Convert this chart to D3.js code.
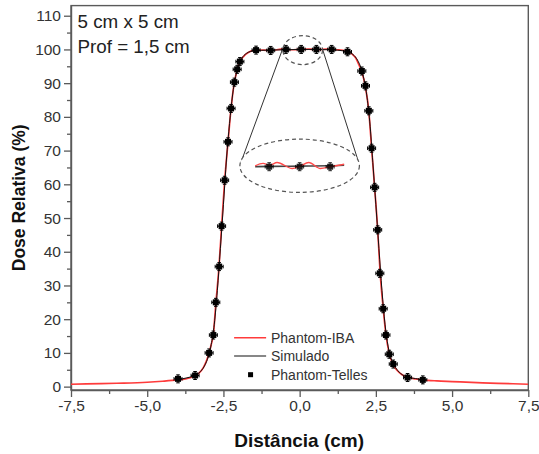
<!DOCTYPE html>
<html><head><meta charset="utf-8">
<script src="https://cdn.jsdelivr.net/npm/d3@7"></script>
<style>
html,body{margin:0;padding:0;background:#fff;}
svg{display:block;font-family:"Liberation Sans",Arial,sans-serif;}
</style></head>
<body>
<svg id="c" width="539" height="454"></svg>
<script>
// ---------- data ----------
const xTicks = [-7.5,-5.0,-2.5,0.0,2.5,5.0,7.5];
const yTicks = [0,10,20,30,40,50,60,70,80,90,100,110];
const seriesNames = ["Phantom-IBA","Simulado","Phantom-Telles"];
const annotLines = ["5 cm x 5 cm","Prof = 1,5 cm"];

const ibaX = [-7.5,-7,-6,-5,-4.5,-4,-3.75,-3.5,-3.3,-3.15,-3.05,-2.97,-2.9,-2.83,-2.75,-2.65,-2.56,-2.46,-2.35,-2.25,-2.15,-2.05,-1.96,-1.85,-1.7,-1.5,-1.2,-0.9,-0.6,-0.3,0,0.3,0.6,0.9,1.2,1.5,1.7,1.85,1.95,2.04,2.16,2.27,2.36,2.46,2.56,2.64,2.74,2.83,2.94,3.07,3.2,3.35,3.55,3.8,4.04,4.5,5,6,7,7.5];
const ibaY = [0.7,0.8,1.0,1.3,1.6,2.0,2.3,2.9,4.0,5.8,7.8,10.0,12.5,15.5,24.5,35,47.5,61,72.5,82.5,89.8,94,96.4,97.8,99.0,99.7,99.8,99.7,100.1,99.9,100,100.1,99.9,100.1,99.9,99.6,98.8,97.3,95.3,93.3,88.8,81.5,70.8,59,46.5,33.8,23.3,15.5,9.8,6.5,4.8,3.6,2.7,2.3,2.0,1.7,1.5,1.1,0.85,0.7];

const simX = [-4,-3.7,-3.45,-3.25,-3.1,-3.0,-2.9,-2.8,-2.7,-2.6,-2.5,-2.4,-2.3,-2.2,-2.1,-2.0,-1.9,-1.75,-1.5,-1,-0.5,0,0.5,1,1.5,1.75,1.9,2.0,2.1,2.2,2.3,2.4,2.5,2.6,2.7,2.8,2.9,3.0,3.15,3.3,3.55,3.8,4.04];
const simY = [2.1,2.6,3.3,4.5,6.5,8.8,12.5,18.5,28.5,41,54,67.5,78,86.5,92,95.3,97.3,98.8,99.6,99.8,99.9,100,100,99.9,99.5,98.5,96.8,94.8,91.5,86.5,78.5,66.5,54,41,28.5,18.5,12,8.3,5.6,4.0,2.8,2.4,2.0];

const tellesX = [-3.99,-3.43,-2.97,-2.83,-2.75,-2.64,-2.56,-2.46,-2.35,-2.25,-2.14,-2.05,-1.96,-1.43,-0.95,-0.45,0.05,0.55,1.05,1.57,2.04,2.16,2.27,2.36,2.46,2.56,2.63,2.74,2.83,2.94,3.07,3.54,4.04];
const tellesY = [2.3,3.3,10.0,15.3,25.0,35.6,47.6,61.2,72.6,82.5,90.3,94.1,96.4,99.8,99.7,100.0,100.0,100.0,100.0,99.3,93.6,89.2,81.8,70.7,59.1,46.5,33.6,23.1,15.3,9.6,6.7,2.7,2.0];

// magnified inset (plateau region)
const insetIbaX = [-0.73,-0.6,-0.49,-0.37,-0.12,0.0,0.15,0.34,0.51,0.73];
const insetIbaY = [100.01,100.09,100.03,100.12,99.92,99.99,100.12,99.92,99.98,100.06];
const insetSimX = [-0.73,-0.45,0.0,0.45,0.73];
const insetSimY = [99.98,99.99,100.0,100.01,100.03];
const insetTellesX = [-0.5,0.0,0.5];
const insetTellesY = [99.98,99.98,99.98];

// ---------- layout ----------
const svg = d3.select("#c");
const L = 71, R = 528.3, T = 5.6, B = 390;
const x = d3.scaleLinear().domain([-7.5,7.5]).range([L,R]);
const y = d3.scaleLinear().domain([-1,113]).range([B,T]);
const axisCol = "#5a5a5a", txtCol = "#333";

svg.append("defs").append("clipPath").attr("id","clip")
  .append("rect").attr("x",L).attr("y",T).attr("width",R-L).attr("height",B-T);

// frame
svg.append("rect").attr("x",L).attr("y",T).attr("width",R-L).attr("height",B-T)
  .attr("fill","none").attr("stroke",axisCol).attr("stroke-width",1.4);

// x axis
const xAxis = d3.axisBottom(x).tickValues(xTicks).tickSize(7).tickSizeOuter(0)
  .tickFormat(d => d3.format(".1f")(d).replace(".",",").replace("−","-"));
const gx = svg.append("g").attr("transform",`translate(0,${B})`).call(xAxis);
gx.select(".domain").attr("stroke",axisCol).attr("stroke-width",1.4);
gx.selectAll(".tick line").attr("stroke",axisCol).attr("stroke-width",1.3);
gx.selectAll(".tick text").attr("fill",txtCol).attr("font-size",15.5)
  .attr("font-family","Liberation Sans, Arial, sans-serif").attr("dy","0.92em").attr("y",7);
const xMinor = d3.axisBottom(x).tickValues(d3.range(-6.25,7.5,2.5)).tickSize(4).tickFormat("");
const gxm = svg.append("g").attr("transform",`translate(0,${B})`).call(xMinor);
gxm.select(".domain").remove();
gxm.selectAll(".tick line").attr("stroke",axisCol).attr("stroke-width",1.3);

// y axis
const yAxis = d3.axisLeft(y).tickValues(yTicks).tickSize(7).tickSizeOuter(0).tickFormat(d3.format("d"));
const gy = svg.append("g").attr("transform",`translate(${L},0)`).call(yAxis);
gy.select(".domain").attr("stroke",axisCol).attr("stroke-width",1.4);
gy.selectAll(".tick line").attr("stroke",axisCol).attr("stroke-width",1.3);
gy.selectAll(".tick text").attr("fill",txtCol).attr("font-size",15.5)
  .attr("font-family","Liberation Sans, Arial, sans-serif").attr("x",-10);
const yMinor = d3.axisLeft(y).tickValues(d3.range(5,111,10)).tickSize(4).tickFormat("");
const gym = svg.append("g").attr("transform",`translate(${L},0)`).call(yMinor);
gym.select(".domain").remove();
gym.selectAll(".tick line").attr("stroke",axisCol).attr("stroke-width",1.3);

// axis titles
svg.append("text").attr("x",(L+R)/2 - 0.5).attr("y",447).attr("text-anchor","middle")
  .attr("font-weight","bold").attr("font-size",19).attr("fill","#111").text("Distância (cm)");
svg.append("text").attr("transform",`translate(25,${(T+B)/2}) rotate(-90)`).attr("text-anchor","middle")
  .attr("font-weight","bold").attr("font-size",17.5).attr("fill","#111").text("Dose Relativa (%)");

// annotation
annotLines.forEach((t,i)=>{
  svg.append("text").attr("x",L+6.5).attr("y",28.3+i*24.4).attr("font-size",18.8)
    .attr("fill","#222").text(t);
});

// series
const plot = svg.append("g").attr("clip-path","url(#clip)");
const lineGen = d3.line().x(d=>x(d[0])).y(d=>y(d[1])).curve(d3.curveMonotoneX);
plot.append("path").datum(d3.zip(ibaX,ibaY)).attr("d",lineGen)
  .attr("fill","none").attr("stroke","#ff3b3b").attr("stroke-width",1.7);
plot.append("path").datum(d3.zip(simX,simY)).attr("d",lineGen)
  .attr("fill","none").attr("stroke","#111").attr("stroke-width",1);

function marker(g, px, py, s){
  const e = 4;
  g.append("line").attr("x1",px-e).attr("x2",px+e).attr("y1",py).attr("y2",py).attr("stroke","#000").attr("stroke-width",1.2);
  g.append("line").attr("x1",px).attr("x2",px).attr("y1",py-e).attr("y2",py+e).attr("stroke","#000").attr("stroke-width",1.2);
  g.append("line").attr("x1",px-e).attr("x2",px-e).attr("y1",py-1.8).attr("y2",py+1.8).attr("stroke","#000").attr("stroke-width",1);
  g.append("line").attr("x1",px+e).attr("x2",px+e).attr("y1",py-1.8).attr("y2",py+1.8).attr("stroke","#000").attr("stroke-width",1);
  g.append("line").attr("x1",px-1.8).attr("x2",px+1.8).attr("y1",py-e).attr("y2",py-e).attr("stroke","#000").attr("stroke-width",1);
  g.append("line").attr("x1",px-1.8).attr("x2",px+1.8).attr("y1",py+e).attr("y2",py+e).attr("stroke","#000").attr("stroke-width",1);
  g.append("rect").attr("x",px-s/2).attr("y",py-s/2).attr("width",s).attr("height",s).attr("fill","#000");
}
const mg = plot.append("g");
d3.zip(tellesX,tellesY).forEach(d=>marker(mg, x(d[0]), y(d[1]), 6));

// zoom annotation
const ann = svg.append("g");
const sc = {cx:x(0.1), cy:y(99.8), rx:x(0.65)-x(0), ry:y(95.5)-y(99.8)};
const bc = {cx:x(0.0), cy:y(65.5), rx:x(1.96)-x(0), ry:y(57.6)-y(65.5)};
ann.append("line").attr("x1",sc.cx-20.5).attr("y1",sc.cy).attr("x2",bc.cx-58.5).attr("y2",bc.cy-4)
  .attr("stroke","#333").attr("stroke-width",1);
ann.append("line").attr("x1",sc.cx+20).attr("y1",sc.cy-0.5).attr("x2",bc.cx+58).attr("y2",bc.cy-6.5)
  .attr("stroke","#333").attr("stroke-width",1);
ann.append("ellipse").attr("cx",sc.cx).attr("cy",sc.cy).attr("rx",sc.rx).attr("ry",sc.ry)
  .attr("fill","none").attr("stroke","#555").attr("stroke-width",1.2).attr("stroke-dasharray","4,3");
ann.append("ellipse").attr("cx",bc.cx).attr("cy",bc.cy).attr("rx",bc.rx).attr("ry",bc.ry)
  .attr("fill","#fff").attr("stroke","#555").attr("stroke-width",1.2).attr("stroke-dasharray","4,3");

const ix = d3.scaleLinear().domain([-0.75,0.75]).range([x(-1.5),x(1.5)]);
const iy = d3.scaleLinear().domain([99.6,100.4]).range([y(65.4)+12,y(65.4)-12]);
const iLine = d3.line().x(d=>ix(d[0])).y(d=>iy(d[1])).curve(d3.curveMonotoneX);
ann.append("path").datum(d3.zip(insetSimX,insetSimY)).attr("d",iLine)
  .attr("fill","none").attr("stroke","#444").attr("stroke-width",1.6);
ann.append("path").datum(d3.zip(insetIbaX,insetIbaY)).attr("d",iLine)
  .attr("fill","none").attr("stroke","#ff4a4a").attr("stroke-width",1.4);
const img = ann.append("g").attr("opacity",0.85);
d3.zip(insetTellesX,insetTellesY).forEach(d=>marker(img, ix(d[0]), iy(d[1]), 6));

// legend
const lg = svg.append("g");
const legY = [y(14.5), y(9.08), y(3.54)];
lg.append("line").attr("x1",x(-2.15)).attr("x2",x(-1.1)).attr("y1",legY[0]).attr("y2",legY[0])
  .attr("stroke","#ff3b3b").attr("stroke-width",1.6);
lg.append("line").attr("x1",x(-2.15)).attr("x2",x(-1.1)).attr("y1",legY[1]).attr("y2",legY[1])
  .attr("stroke","#111").attr("stroke-width",1.2);
lg.append("rect").attr("x",x(-1.61)-2.5).attr("y",legY[2]-2.5).attr("width",5).attr("height",5).attr("fill","#000");
seriesNames.forEach((n,i)=>{
  lg.append("text").attr("x",x(-0.94)).attr("y",legY[i]+5).attr("font-size",14)
    .attr("fill",txtCol).text(n);
});
</script>
</body></html>
